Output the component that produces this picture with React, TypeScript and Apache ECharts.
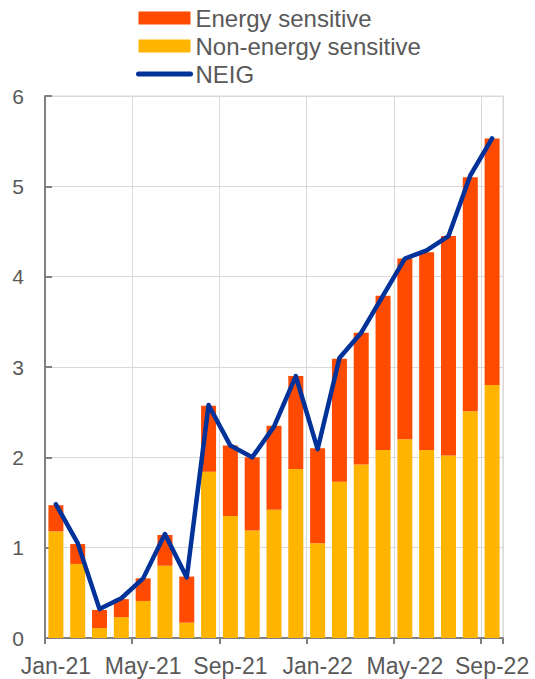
import React, { useEffect, useRef } from "react";
import * as echarts from "echarts";

const months = [
  "Jan-21", "Feb-21", "Mar-21", "Apr-21", "May-21", "Jun-21", "Jul-21", "Aug-21", "Sep-21", "Oct-21", "Nov-21", "Dec-21",
  "Jan-22", "Feb-22", "Mar-22", "Apr-22", "May-22", "Jun-22", "Jul-22", "Aug-22", "Sep-22",
];
const nonEnergy = [1.18, 0.82, 0.11, 0.23, 0.41, 0.80, 0.17, 1.84, 1.35, 1.19, 1.42, 1.87, 1.05, 1.73, 1.92, 2.08, 2.20, 2.08, 2.02, 2.51, 2.80];
const energy = [0.29, 0.22, 0.20, 0.20, 0.25, 0.34, 0.51, 0.73, 0.78, 0.81, 0.93, 1.03, 1.05, 1.36, 1.46, 1.71, 2.00, 2.19, 2.43, 2.59, 2.73];
const neig = [1.48, 1.05, 0.32, 0.44, 0.66, 1.15, 0.67, 2.58, 2.13, 2.00, 2.34, 2.90, 2.09, 3.10, 3.38, 3.79, 4.20, 4.29, 4.45, 5.12, 5.53];

const FONT = "'Liberation Sans', Arial, sans-serif";
const TEXT = "#595959";

export default function App() {
  const ref = useRef<HTMLDivElement>(null);
  useEffect(() => {
    if (!ref.current) return;
    const chart = echarts.init(ref.current, undefined, { renderer: "svg" });
    chart.setOption({
      animation: false,
      textStyle: { fontFamily: FONT },
      legend: {
        orient: "vertical",
        left: 136,
        top: 6,
        padding: 0,
        itemWidth: 52,
        itemHeight: 13,
        itemGap: 4,
        textStyle: { fontSize: 24, color: TEXT, fontFamily: FONT, lineHeight: 24 },
        data: [
          { name: "Energy sensitive", icon: "rect" },
          { name: "Non-energy sensitive", icon: "rect" },
          {
            name: "NEIG",
            itemStyle: { opacity: 0 },
            lineStyle: { width: 5, cap: "round", color: "#003299" },
          },
        ],
      },
      grid: {
        left: 45,
        right: 32,
        top: 96,
        bottom: 41,
        show: true,
        borderColor: "#d9d9d9",
        borderWidth: 1,
      },
      xAxis: {
        type: "category",
        data: months,
        boundaryGap: true,
        axisLine: { lineStyle: { color: "#808080", width: 2 } },
        axisTick: { show: true, interval: 3, length: 6, lineStyle: { color: "#808080", width: 2 } },
        splitLine: { show: true, interval: 3, lineStyle: { color: "#d9d9d9", width: 1 } },
        axisLabel: { interval: 3, fontSize: 23, color: TEXT, fontFamily: FONT, margin: 16 },
      },
      yAxis: {
        type: "value",
        min: 0,
        max: 6,
        interval: 1,
        axisLine: { show: true, lineStyle: { color: "#808080", width: 2 } },
        axisTick: { show: true, inside: true, length: 7, lineStyle: { color: "#808080", width: 2 } },
        splitLine: { show: true, lineStyle: { color: "#d9d9d9", width: 1 } },
        axisLabel: { fontSize: 21, color: TEXT, fontFamily: FONT, margin: 21 },
      },
      series: [
        {
          name: "Non-energy sensitive",
          type: "bar",
          stack: "total",
          data: nonEnergy,
          barWidth: 15,
          itemStyle: { color: "#FFB400" },
        },
        {
          name: "Energy sensitive",
          type: "bar",
          stack: "total",
          data: energy,
          barWidth: 15,
          itemStyle: { color: "#FF4B00" },
        },
        {
          name: "NEIG",
          type: "line",
          data: neig,
          symbol: "none",
          lineStyle: { color: "#003299", width: 4.5, cap: "round", join: "round" },
          itemStyle: { color: "#003299" },
        },
      ],
    });
    return () => chart.dispose();
  }, []);
  return <div ref={ref} style={{ width: 535, height: 679, position: "absolute", left: 0, top: 0 }} />;
}
